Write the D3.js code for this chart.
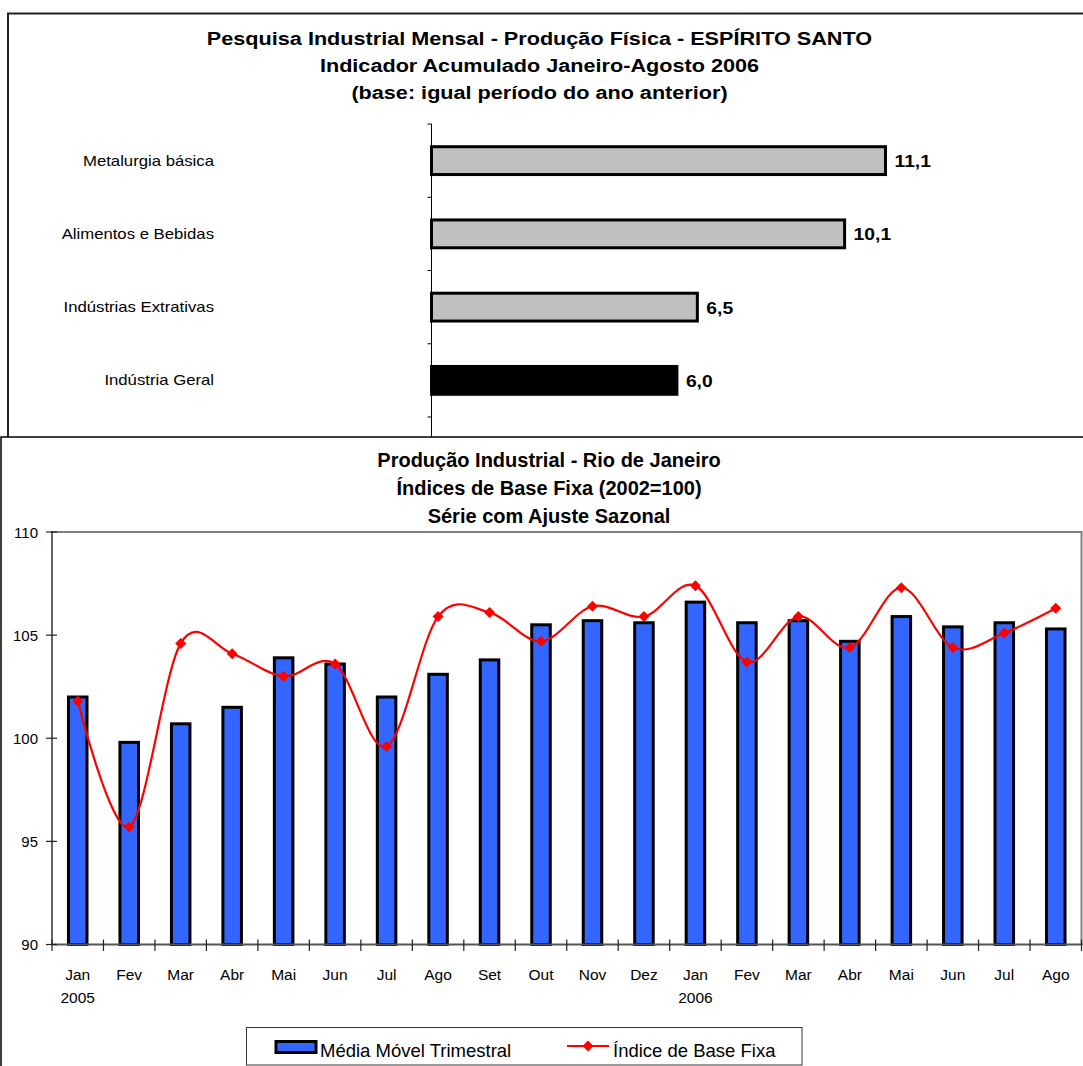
<!DOCTYPE html>
<html>
<head>
<meta charset="utf-8">
<script src="https://cdn.jsdelivr.net/npm/d3@7"></script>
<style>
  html, body { margin: 0; padding: 0; background: #fff; }
  svg { display: block; font-family: "Liberation Sans", Arial, sans-serif; }
</style>
</head>
<body>
<svg id="chart" width="1083" height="1066"></svg>
<script>
// Espírito Santo – accumulated indicator Jan–Aug 2006
const esTitle = [
  "Pesquisa Industrial Mensal - Produção Física - ESPÍRITO SANTO",
  "Indicador Acumulado Janeiro-Agosto 2006",
  "(base: igual período do ano anterior)"
];
const esCategories = ["Metalurgia básica", "Alimentos e Bebidas", "Indústrias Extrativas", "Indústria Geral"];
const esValues = [11.1, 10.1, 6.5, 6.0];

// Rio de Janeiro – fixed-base indices, seasonally adjusted
const rjTitle = [
  "Produção Industrial - Rio de Janeiro",
  "Índices de Base Fixa (2002=100)",
  "Série com Ajuste Sazonal"
];
const rjMonths = ["Jan", "Fev", "Mar", "Abr", "Mai", "Jun", "Jul", "Ago", "Set", "Out", "Nov", "Dez",
                  "Jan", "Fev", "Mar", "Abr", "Mai", "Jun", "Jul", "Ago"];
const rjYears = ["2005", "", "", "", "", "", "", "", "", "", "", "",
                 "2006", "", "", "", "", "", "", ""];
const rjMovingAverage = [102.0, 99.8, 100.7, 101.5, 103.9, 103.6, 102.0, 103.1, 103.8, 105.5, 105.7, 105.6,
                         106.6, 105.6, 105.7, 104.7, 105.9, 105.4, 105.6, 105.3];
const rjFixedIndex = [101.8, 95.7, 104.6, 104.1, 103.0, 103.6, 99.6, 105.9, 106.1, 104.7, 106.4, 105.9,
                      107.4, 103.7, 105.9, 104.4, 107.3, 104.4, 105.1, 106.3];
const rjYTicks = [90, 95, 100, 105, 110];
const rjLegend = ["Média Móvel Trimestral", "Índice de Base Fixa"];

const svg = d3.select("#chart");
const W = 1083, H = 1066;

/* ---------------- upper panel: horizontal bars ---------------- */
const upper = svg.append("g");
const upperStretch = 1.17;           // this panel's text is drawn a little wide
const upperFrameBottom = 437;

upper.append("rect")
  .attr("x", 8).attr("y", 13.5)
  .attr("width", W + 10).attr("height", upperFrameBottom - 13.5 + 20)
  .attr("fill", "#fff").attr("stroke", "#222").attr("stroke-width", 2);

upper.selectAll("text.title").data(esTitle).enter().append("text")
  .attr("class", "title")
  .attr("transform", (d, i) => `translate(539.5,${45 + i * 27}) scale(${upperStretch},1)`)
  .attr("text-anchor", "middle")
  .attr("font-size", 18.5).attr("font-weight", "bold").attr("fill", "#000")
  .text(d => d);

const esY = d3.scaleBand().domain(esCategories).range([124, 417]).paddingInner(0).paddingOuter(0);
const esX = d3.scaleLinear().domain([0, 12]).range([431.5, 431.5 + 12 * 40.9]);
const esBarH = esY.bandwidth() * 0.38;

// category axis (line continues down to the panel edge)
upper.append("line")
  .attr("x1", esX(0)).attr("x2", esX(0))
  .attr("y1", esY.range()[0]).attr("y2", upperFrameBottom)
  .attr("stroke", "#000").attr("stroke-width", 1);
const esTickYs = esCategories.map(c => esY(c)).concat([esY.range()[1]]);
upper.selectAll("line.etick").data(esTickYs).enter().append("line")
  .attr("x1", esX(0) - 4).attr("x2", esX(0))
  .attr("y1", d => d).attr("y2", d => d)
  .attr("stroke", "#000").attr("stroke-width", 1);

upper.selectAll("text.cat").data(esCategories).enter().append("text")
  .attr("transform", d => `translate(214,${esY(d) + esY.bandwidth() / 2 + 5}) scale(${upperStretch},1)`)
  .attr("text-anchor", "end")
  .attr("font-size", 14.3).attr("fill", "#000")
  .text(d => d);

upper.selectAll("rect.bar").data(esCategories).enter().append("rect")
  .attr("x", esX(0))
  .attr("y", d => esY(d) + (esY.bandwidth() - esBarH) / 2)
  .attr("width", (d, i) => esX(esValues[i]) - esX(0))
  .attr("height", esBarH)
  .attr("fill", d => d === "Indústria Geral" ? "#000" : "#C0C0C0")
  .attr("stroke", "#000").attr("stroke-width", 3);

upper.selectAll("text.val").data(esCategories).enter().append("text")
  .attr("transform", (d, i) => `translate(${esX(esValues[i]) + 9},${esY(d) + esY.bandwidth() / 2 + 6.5}) scale(${upperStretch},1)`)
  .attr("font-size", 16.5).attr("font-weight", "bold").attr("fill", "#000")
  .text((d, i) => d3.format(".1f")(esValues[i]).replace(".", ","));

/* ---------------- lower panel: bars + smoothed line ---------------- */
const lower = svg.append("g");
lower.append("rect")
  .attr("x", 1).attr("y", upperFrameBottom)
  .attr("width", W + 10).attr("height", H - upperFrameBottom + 10)
  .attr("fill", "#fff").attr("stroke", "#000").attr("stroke-width", 1.5);

lower.selectAll("text.title").data(rjTitle).enter().append("text")
  .attr("x", 549).attr("y", (d, i) => 467 + i * 28)
  .attr("text-anchor", "middle")
  .attr("font-size", 20).attr("font-weight", "bold").attr("fill", "#000")
  .text(d => d);

const plot = { left: 52, right: 1081.5, top: 532, bottom: 944.5 };
const idx = d3.range(rjMonths.length);
const x = d3.scaleBand().domain(idx).range([plot.left, plot.right]).padding(0);
const y = d3.scaleLinear().domain([90, 110]).range([plot.bottom, plot.top]);
const barW = x.bandwidth() * 0.36;

// plot border (top and right)
lower.append("path")
  .attr("d", `M${plot.left},${plot.top}H${plot.right}V${plot.bottom}`)
  .attr("fill", "none").attr("stroke", "#808080").attr("stroke-width", 2);

// bars
lower.selectAll("rect.bar").data(idx).enter().append("rect")
  .attr("x", i => x(i) + (x.bandwidth() - barW) / 2)
  .attr("y", i => y(rjMovingAverage[i]))
  .attr("width", barW)
  .attr("height", i => y(90) - y(rjMovingAverage[i]))
  .attr("fill", "#3366FF")
  .attr("stroke", "#000").attr("stroke-width", 3);

// axes
lower.append("line")
  .attr("x1", plot.left).attr("x2", plot.left)
  .attr("y1", plot.top - 1).attr("y2", plot.bottom)
  .attr("stroke", "#333").attr("stroke-width", 1.5);
lower.append("line")
  .attr("x1", plot.left).attr("x2", plot.right + 1)
  .attr("y1", plot.bottom).attr("y2", plot.bottom)
  .attr("stroke", "#555").attr("stroke-width", 2);

lower.selectAll("line.ytick").data(rjYTicks).enter().append("line")
  .attr("x1", plot.left - 6).attr("x2", plot.left + 5)
  .attr("y1", d => y(d)).attr("y2", d => y(d))
  .attr("stroke", "#222").attr("stroke-width", 1.2);
lower.selectAll("text.ylab").data(rjYTicks).enter().append("text")
  .attr("x", 38).attr("y", d => y(d) + 5.5)
  .attr("text-anchor", "end")
  .attr("font-size", 15).attr("fill", "#000")
  .text(d => d);

const xTickPos = idx.map(i => x(i)).concat([plot.right]);
lower.selectAll("line.xtick").data(xTickPos).enter().append("line")
  .attr("x1", d => d).attr("x2", d => d)
  .attr("y1", plot.bottom - 5).attr("y2", plot.bottom + 6.5)
  .attr("stroke", "#222").attr("stroke-width", 1.2);
lower.selectAll("text.xlab").data(idx).enter().append("text")
  .attr("x", i => x(i) + x.bandwidth() / 2).attr("y", 980)
  .attr("text-anchor", "middle")
  .attr("font-size", 15.5).attr("fill", "#000")
  .text(i => rjMonths[i]);
lower.selectAll("text.yearlab").data(idx.filter(i => rjYears[i])).enter().append("text")
  .attr("x", i => x(i) + x.bandwidth() / 2).attr("y", 1003)
  .attr("text-anchor", "middle")
  .attr("font-size", 15.5).attr("fill", "#000")
  .text(i => rjYears[i]);

// smoothed index line
const line = d3.line()
  .x(i => x(i) + x.bandwidth() / 2)
  .y(i => y(rjFixedIndex[i]))
  .curve(d3.curveCardinal.tension(0));
lower.append("path")
  .attr("d", line(idx))
  .attr("fill", "none").attr("stroke", "#FF0000").attr("stroke-width", 2.2);

const diamond = r => `M0,${-r}L${r},0L0,${r}L${-r},0Z`;
lower.selectAll("path.marker").data(idx).enter().append("path")
  .attr("transform", i => `translate(${x(i) + x.bandwidth() / 2},${y(rjFixedIndex[i])})`)
  .attr("d", diamond(5.5))
  .attr("fill", "#FF0000");

// legend
const lg = lower.append("g");
lg.append("rect")
  .attr("x", 246.5).attr("y", 1027.5).attr("width", 555.5).attr("height", 37.5)
  .attr("fill", "#fff").attr("stroke", "#333").attr("stroke-width", 1);
lg.append("rect")
  .attr("x", 276).attr("y", 1041.5).attr("width", 40).attr("height", 11)
  .attr("fill", "#3366FF").attr("stroke", "#000").attr("stroke-width", 3);
lg.append("text")
  .attr("x", 320).attr("y", 1057)
  .attr("font-size", 18.5).attr("fill", "#000")
  .text(rjLegend[0]);
lg.append("line")
  .attr("x1", 567).attr("x2", 609).attr("y1", 1046).attr("y2", 1046)
  .attr("stroke", "#FF0000").attr("stroke-width", 2.2);
lg.append("path")
  .attr("transform", "translate(588,1046)")
  .attr("d", diamond(5.5))
  .attr("fill", "#FF0000");
lg.append("text")
  .attr("x", 613).attr("y", 1057)
  .attr("font-size", 18.5).attr("fill", "#000")
  .text(rjLegend[1]);
</script>
</body>
</html>
